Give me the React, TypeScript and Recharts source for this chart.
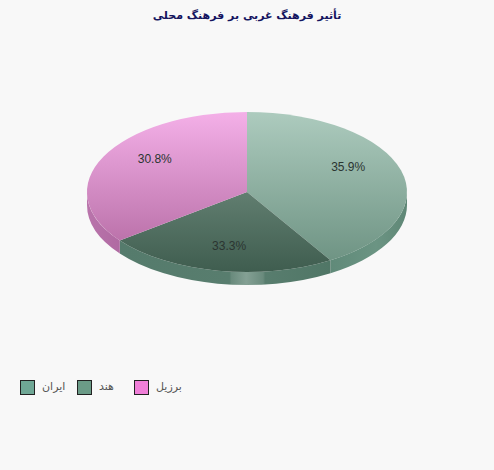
import { Legend, Pie, PieChart } from "recharts";

const names = ["ایران", "هند", "برزیل"];
const shares = [35.9, 33.3, 30.8];
const topFills = ["url(#topIran)", "url(#topHind)", "url(#topBrazil)"];
const wallFills = ["url(#wallIran)", "url(#wallHind)", "url(#wallBrazil)"];
const legendColors = ["#6fa795", "#6b9b87", "#f07fd8"];

const TITLE = "تأثیر فرهنگ غربی بر فرهنگ محلی";
const FONT = "'DejaVu Sans', 'Noto Sans', sans-serif";

const rows = names.map((name, i) => ({
  name,
  value: shares[i],
  fill: topFills[i],
  wall: wallFills[i],
  swatch: legendColors[i],
}));

// tilt of the fake 3D disc
const RX = 160;
const RY = 80;
const DEPTH = 13;
const rad = (deg: number) => (deg * Math.PI) / 180;

// angle from 12 o'clock, clockwise, the way the ray leaves the centre on screen
function rim(cx: number, cy: number, deg: number) {
  const s = Math.sin(rad(deg));
  const c = Math.cos(rad(deg));
  const r = 1 / Math.sqrt((s / RX) ** 2 + (c / RY) ** 2);
  return { x: cx + r * s, y: cy - r * c };
}

function TopFace(props: any) {
  const { cx, cy, startAngle, endAngle, fill } = props;
  const a = 90 - startAngle;
  const b = 90 - endAngle;
  const p = rim(cx, cy, a);
  const q = rim(cx, cy, b);
  const large = b - a > 180 ? 1 : 0;
  return (
    <path
      d={`M${cx},${cy} L${p.x},${p.y} A${RX},${RY} 0 ${large} 1 ${q.x},${q.y} Z`}
      fill={fill}
      stroke="none"
    />
  );
}

// only the front half of the rim shows a wall
function Wall(props: any) {
  const { cx, cy, startAngle, endAngle, wall } = props;
  const a = Math.max(90 - startAngle, 90);
  const b = Math.min(90 - endAngle, 270);
  if (b <= a) return null;
  const p = rim(cx, cy, a);
  const q = rim(cx, cy, b);
  return (
    <path
      d={`M${p.x},${p.y} A${RX},${RY} 0 0 1 ${q.x},${q.y} L${q.x},${q.y + DEPTH} A${RX},${RY} 0 0 0 ${p.x},${p.y + DEPTH} Z`}
      fill={wall}
      stroke="none"
    />
  );
}

function PercentLabel(props: any) {
  const { cx, cy, midAngle, value } = props;
  const mid = rad(90 - midAngle);
  return (
    <text
      x={cx + 0.7 * RX * Math.sin(mid)}
      y={cy - 0.7 * RY * Math.cos(mid) - 1}
      textAnchor="middle"
      dominantBaseline="central"
      fontSize={12}
      fontFamily="Arial, 'Liberation Sans', sans-serif"
      fill="#2b3531"
    >
      {value.toFixed(1)}%
    </text>
  );
}

function LegendRow({ payload }: any) {
  // the wall series has legendType none, keep the data order
  const items = (payload ?? []).filter((item: any) => item.type !== "none");
  return (
    <div style={{ display: "flex", alignItems: "center", direction: "ltr" }}>
      {names.map((name) => {
        const item = items.find((it: any) => it.value === name);
        if (!item) return null;
        return (
          <div
            key={name}
            style={{ display: "flex", alignItems: "center", width: 57 }}
          >
            <span
              style={{
                width: 13,
                height: 13,
                border: "1.5px solid #222",
                background: item.payload.swatch,
                display: "inline-block",
              }}
            />
            <span
              style={{
                marginLeft: 7,
                fontFamily: FONT,
                fontSize: 11,
                color: "#555",
                position: "relative",
                top: -1,
              }}
            >
              {item.value}
            </span>
          </div>
        );
      })}
    </div>
  );
}

export default function App() {
  return (
    <div
      style={{
        position: "absolute",
        left: 0,
        top: 0,
        width: 494,
        height: 470,
        background: "#f8f8f8",
      }}
    >
      <style>{`body{margin:0;background:#f8f8f8}`}</style>
      <div
        dir="rtl"
        style={{
          position: "absolute",
          top: 9,
          left: 0,
          width: 494,
          textAlign: "center",
          fontFamily: FONT,
          fontSize: 11,
          fontWeight: "bold",
          color: "#14145f",
        }}
      >
        {TITLE}
      </div>
      <PieChart width={494} height={470} margin={{ top: 0, right: 0, bottom: 0, left: 0 }}>
        <defs>
          <linearGradient id="topIran" x1="0" y1="0" x2="0" y2="1">
            <stop offset="0" stopColor="#adcbbe" />
            <stop offset="1" stopColor="#6f9484" />
          </linearGradient>
          <linearGradient id="topHind" x1="0" y1="0" x2="0" y2="1">
            <stop offset="0" stopColor="#617e70" />
            <stop offset="1" stopColor="#3f5d4f" />
          </linearGradient>
          <linearGradient id="topBrazil" x1="0" y1="0" x2="0" y2="1">
            <stop offset="0" stopColor="#f4b0e8" />
            <stop offset="1" stopColor="#bc73ab" />
          </linearGradient>
          <linearGradient id="wallIran" x1="0" y1="0" x2="1" y2="0">
            <stop offset="0" stopColor="#608a79" />
            <stop offset="0.6" stopColor="#6b9483" />
            <stop offset="1" stopColor="#5f8776" />
          </linearGradient>
          <linearGradient id="wallHind" x1="0" y1="0" x2="1" y2="0">
            <stop offset="0" stopColor="#557b6c" />
            <stop offset="0.52" stopColor="#587d6e" />
            <stop offset="0.53" stopColor="#6a8b7d" />
            <stop offset="0.6" stopColor="#84a094" />
            <stop offset="0.68" stopColor="#6a8b7d" />
            <stop offset="0.69" stopColor="#587d6e" />
            <stop offset="1" stopColor="#507666" />
          </linearGradient>
          <linearGradient id="wallBrazil" x1="0" y1="0" x2="1" y2="0">
            <stop offset="0" stopColor="#b974ab" />
            <stop offset="1" stopColor="#b06aa2" />
          </linearGradient>
        </defs>
        <Pie
          data={rows}
          dataKey="value"
          nameKey="name"
          cx={247}
          cy={192}
          outerRadius={RX}
          startAngle={90}
          endAngle={-270}
          legendType="none"
          shape={Wall}
          isAnimationActive={false}
        />
        <Pie
          data={rows}
          dataKey="value"
          nameKey="name"
          cx={247}
          cy={192}
          outerRadius={RX}
          startAngle={90}
          endAngle={-270}
          shape={TopFace}
          label={PercentLabel}
          labelLine={false}
          legendType="square"
          isAnimationActive={false}
        />
        <Legend
          content={<LegendRow />}
          wrapperStyle={{ position: "absolute", left: 20, top: 380, width: 200, bottom: "auto" }}
        />
      </PieChart>
    </div>
  );
}
